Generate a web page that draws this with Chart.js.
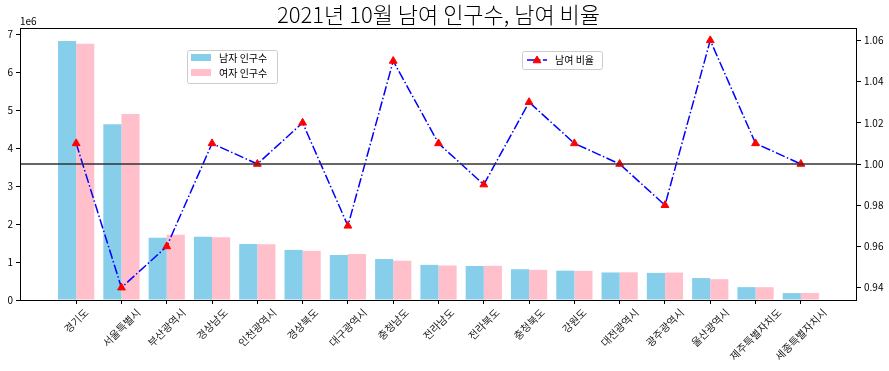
<!DOCTYPE html>
<html>
<head>
<meta charset="utf-8">
<script src="https://cdn.jsdelivr.net/npm/chart.js@4/dist/chart.umd.min.js"></script>
<style>
  html, body { margin: 0; padding: 0; background: #fff; }
</style>
</head>
<body>
<canvas id="chart" width="889" height="371"></canvas>
<script>
// data
const regions = ['경기도', '서울특별시', '부산광역시', '경상남도', '인천광역시', '경상북도', '대구광역시', '충청남도',
  '전라남도', '전라북도', '충청북도', '강원도', '대전광역시', '광주광역시', '울산광역시', '제주특별자치도', '세종특별자치시'];
const malePop = [6820000, 4630000, 1640000, 1666000, 1474000, 1320000, 1185000, 1078000,
  925000, 895000, 810000, 773000, 725000, 714000, 578000, 339000, 182000];
const femalePop = [6745000, 4895000, 1717000, 1650000, 1470000, 1295000, 1212000, 1035000,
  908000, 900000, 794000, 768000, 730000, 722000, 548000, 337000, 185000];
const sexRatio = [1.01, 0.94, 0.96, 1.01, 1.00, 1.02, 0.97, 1.05, 1.01, 0.99, 1.03, 1.01, 1.00, 0.98, 1.06, 1.01, 1.00];
const leftTicks = [0, 1, 2, 3, 4, 5, 6, 7];          // x 1e6
const rightTicks = [0.94, 0.96, 0.98, 1.00, 1.02, 1.04, 1.06];

const FONT = "'Noto Sans CJK KR', 'Noto Sans', sans-serif";
const MALE_COLOR = '#87CEEB';
const FEMALE_COLOR = '#FFC0CB';

// triangle marker, same shape as chart.js 'triangle'
function drawTriangle(ctx, cx, cy, r) {
    ctx.beginPath();
    for (let k = 0; k < 3; k++) {
        const a = k * 2 * Math.PI / 3;
        const px = cx + Math.sin(a) * r;
        const py = cy - Math.cos(a) * r;
        if (k === 0) ctx.moveTo(px, py); else ctx.lineTo(px, py);
    }
    ctx.closePath();
    ctx.fillStyle = 'red';
    ctx.fill();
    ctx.strokeStyle = 'red';
    ctx.lineWidth = 1;
    ctx.stroke();
}

function legendBox(ctx, x, y, w, h) {
    ctx.save();
    ctx.fillStyle = 'rgba(255,255,255,0.8)';
    ctx.strokeStyle = '#cccccc';
    ctx.lineWidth = 1;
    ctx.beginPath();
    ctx.roundRect(x + 0.5, y + 0.5, w, h, 2);
    ctx.fill();
    ctx.stroke();
    ctx.restore();
}

const decorPlugin = {
    id: 'decor',
    afterDatasetsDraw(chart) {
        const { ctx, chartArea: a, scales } = chart;
        // horizontal line at ratio 1.00
        const y = scales.y1.getPixelForValue(1);
        ctx.save();
        ctx.strokeStyle = '#333333';
        ctx.lineWidth = 1.5;
        ctx.beginPath();
        ctx.moveTo(a.left, y);
        ctx.lineTo(a.right, y);
        ctx.stroke();
        ctx.restore();
    },
    afterDraw(chart) {
        const { ctx, chartArea: a, scales } = chart;
        ctx.save();

        // frame
        ctx.strokeStyle = '#000';
        ctx.lineWidth = 1;
        ctx.strokeRect(Math.round(a.left) + 0.5, Math.round(a.top) + 0.5,
            Math.round(a.right - a.left) - 1, Math.round(a.bottom - a.top));

        // title
        ctx.fillStyle = '#000';
        ctx.font = `300 22px ${FONT}`;
        ctx.textAlign = 'center';
        ctx.textBaseline = 'alphabetic';
        ctx.fillText('2021년 10월 남여 인구수, 남여 비율', (a.left + a.right) / 2, 23);

        // offset text
        ctx.font = `10px ${FONT}`;
        ctx.textAlign = 'left';
        ctx.fillText('1e6', a.left, a.top - 3);

        // rotated x labels, centred on tick like matplotlib
        ctx.font = `10.5px ${FONT}`;
        ctx.fillStyle = '#222';
        ctx.textAlign = 'center';
        ctx.textBaseline = 'middle';
        regions.forEach((name, i) => {
            const x = scales.x.getPixelForValue(i);
            const w = ctx.measureText(name).width;
            const half = (w + 10) * Math.SQRT1_2 / 2;
            ctx.save();
            ctx.translate(x, a.bottom + 7 + half);
            ctx.rotate(-Math.PI / 4);
            ctx.fillText(name, 0, 0);
            ctx.restore();
        });

        // legend: population bars
        ctx.font = `10px ${FONT}`;
        legendBox(ctx, 187, 50, 90, 33);
        ctx.fillStyle = MALE_COLOR;
        ctx.fillRect(191, 54, 20, 7);
        ctx.fillStyle = FEMALE_COLOR;
        ctx.fillRect(191, 69, 20, 7);
        ctx.fillStyle = '#000';
        ctx.textAlign = 'left';
        ctx.fillText('남자 인구수', 219, 58);
        ctx.fillText('여자 인구수', 219, 73);

        // legend: ratio line
        legendBox(ctx, 522, 51, 80, 18);
        ctx.save();
        ctx.strokeStyle = 'blue';
        ctx.lineWidth = 1.5;
        ctx.setLineDash([9.6, 2.4, 1.5, 2.4]);
        ctx.beginPath();
        ctx.moveTo(527, 60);
        ctx.lineTo(547, 60);
        ctx.stroke();
        ctx.restore();
        drawTriangle(ctx, 537, 60.5, 4.5);
        ctx.fillStyle = '#000';
        ctx.fillText('남여 비율', 555, 60);

        ctx.restore();
    }
};

const ctx = document.getElementById('chart').getContext('2d');

new Chart(ctx, {
    type: 'bar',
    data: {
        datasets: [
            {
                label: '남자 인구수',
                data: malePop.map((v, i) => ({ x: i, y: v })),
                backgroundColor: MALE_COLOR,
                yAxisID: 'y',
                order: 2
            },
            {
                label: '여자 인구수',
                data: femalePop.map((v, i) => ({ x: i, y: v })),
                backgroundColor: FEMALE_COLOR,
                yAxisID: 'y',
                order: 2
            },
            {
                type: 'line',
                label: '남여 비율',
                data: sexRatio.map((v, i) => ({ x: i, y: v })),
                yAxisID: 'y1',
                borderColor: 'blue',
                borderWidth: 1.5,
                borderDash: [9.6, 2.4, 1.5, 2.4],
                pointStyle: 'triangle',
                pointRadius: 4.5,
                pointBackgroundColor: 'red',
                pointBorderColor: 'red',
                pointBorderWidth: 1,
                tension: 0,
                fill: false,
                order: 1
            }
        ]
    },
    options: {
        responsive: false,
        animation: false,
        devicePixelRatio: 1,
        layout: { padding: { top: 28, left: 0, right: 0, bottom: 0 } },
        datasets: {
            bar: { categoryPercentage: 0.8, barPercentage: 1.0 }
        },
        plugins: {
            legend: { display: false },
            title: { display: false },
            tooltip: { enabled: false }
        },
        scales: {
            x: {
                type: 'linear',
                min: -1.24,
                max: 17.24,
                offset: false,
                afterBuildTicks: scale => { scale.ticks = regions.map((r, i) => ({ value: i })); },
                afterFit: scale => { scale.height = 71; },
                ticks: { display: false },
                grid: { offset: false, drawOnChartArea: false, drawTicks: true, tickLength: 4, color: '#000' },
                border: { display: false }
            },
            y: {
                position: 'left',
                min: 0,
                max: 7161000,
                afterBuildTicks: scale => { scale.ticks = leftTicks.map(v => ({ value: v * 1e6 })); },
                afterFit: scale => { scale.width = 20; },
                ticks: {
                    padding: 3,
                    color: '#000',
                    font: { family: FONT, size: 10 },
                    callback: v => String(Math.round(v / 1e6))
                },
                grid: { drawOnChartArea: false, drawTicks: true, tickLength: 4, color: '#000' },
                border: { display: false }
            },
            y1: {
                position: 'right',
                min: 0.934,
                max: 1.066,
                afterBuildTicks: scale => { scale.ticks = rightTicks.map(v => ({ value: v })); },
                afterFit: scale => { scale.width = 32; },
                ticks: {
                    padding: 3,
                    color: '#000',
                    font: { family: FONT, size: 10 },
                    callback: v => Number(v).toFixed(2)
                },
                grid: { drawOnChartArea: false, drawTicks: true, tickLength: 4, color: '#000' },
                border: { display: false }
            }
        }
    },
    plugins: [decorPlugin]
});
</script>
</body>
</html>
